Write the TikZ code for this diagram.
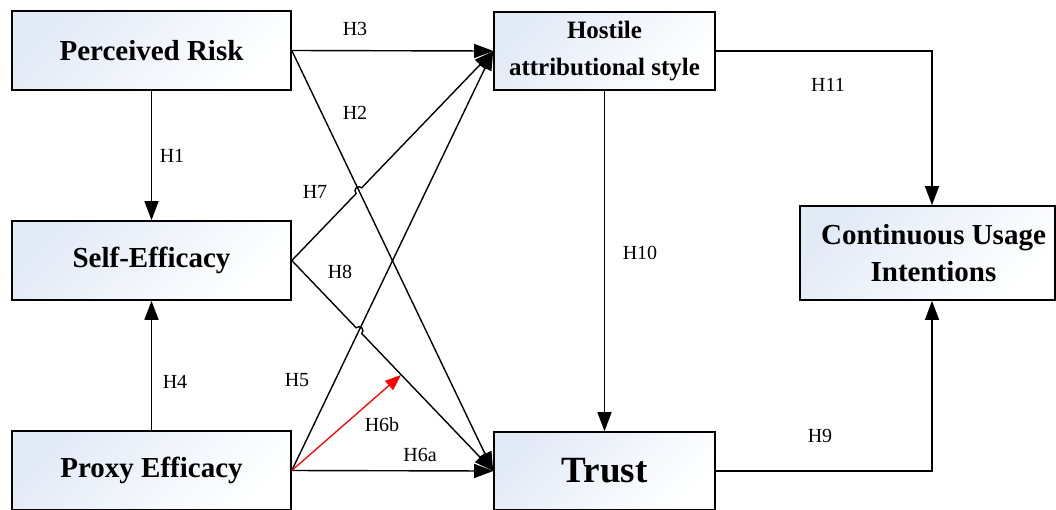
\documentclass[tikz,border=0pt]{standalone}
\usepackage{fontspec}
\setmainfont{Liberation Serif}
\usetikzlibrary{arrows.meta,calc,intersections}
\definecolor{boxblue}{RGB}{226,234,246}
\begin{document}
\begin{tikzpicture}[x=1pt,y=-1pt,
  box/.style={draw=black, line width=1.6pt, top color=boxblue, bottom color=white, shading angle=45,
    font=\bfseries\fontsize{29}{30}\selectfont, align=center, inner sep=0pt},
  conn/.style={line width=1.4pt, -{Triangle[length=19pt,width=14pt]}},
  redconn/.style={line width=1.3pt, red, -{Triangle[length=16pt,width=12pt]}},
  lbl/.style={font=\fontsize{20}{22}\selectfont, inner sep=0pt}]
\useasboundingbox (0,0) rectangle (1056,509);
\clip (0,0) rectangle (1056,509);

% boxes
\node[box, minimum width=279pt, minimum height=79pt] (pr) at (151.5,50.5) {Perceived Risk};
\node[box, minimum width=279pt, minimum height=79pt] (se) at (151.5,260.5) {Self-Efficacy};
\node[box, minimum width=279pt, minimum height=79pt] (px) at (151.5,470.5) {Proxy Efficacy};
\node[box, minimum width=221pt, minimum height=78pt, font=\bfseries\fontsize{25}{37}\selectfont] (host) at (604.5,51) {Hostile\\attributional style};
\node[box, minimum width=221pt, minimum height=78pt, font=\bfseries\fontsize{37}{40}\selectfont] (trust) at (604.5,471) {Trust};
\node[box, minimum width=255pt, minimum height=94pt, font=\bfseries\fontsize{29}{37}\selectfont] (cui) at (927.5,253) {\hspace*{12pt}Continuous Usage\\\hspace*{12pt}Intentions};

% helper paths for the line jumps
\path[name path=h2] (pr.east) -- (trust.west);
\path[name path=h7] (se.east) -- (host.west);
\path[name path=h5] (px.east) -- (host.west);
\path[name path=h8] (se.east) -- (trust.west);
\path[name intersections={of=h2 and h7, by=j1}];
\path[name intersections={of=h5 and h8, by=j2}];

% connectors
\draw[conn] (pr.south) -- (se.north);
\draw[conn] (px.north) -- (se.south);
\draw[conn] (pr.east) -- (host.west);
\draw[conn] (pr.east) -- (trust.west);
\draw[conn] (se.east) -- ($(j1)!4pt!(se.east)$) arc[start angle=226, end angle=46, radius=4pt] -- (host.west);
\draw[conn] (se.east) -- ($(j2)!4pt!(se.east)$) arc[start angle=134.2, end angle=-45.8, radius=4pt] -- (trust.west);
\draw[conn] (px.east) -- (host.west);
\draw[conn] (px.east) -- (trust.west);
\coordinate (h6tip) at (401,375);
\draw[redconn] (px.east) -- (h6tip);
\draw[conn] (host.south) -- (trust.north);
\draw[conn] (host.east) -| ([xshift=4.5pt]cui.north);
\draw[conn] (trust.east) -| ([xshift=4.5pt]cui.south);

% labels
\node[lbl] (l1) at (172,156) {H1};
\node[lbl] (l2) at (355,113) {H2};
\node[lbl] (l3) at (355,29) {H3};
\node[lbl] (l4) at (175,382) {H4};
\node[lbl] (l5) at (297,380) {H5};
\node[lbl] (l6a) at (420,455) {H6a};
\node[lbl] (l6b) at (382,425) {H6b};
\node[lbl] (l7) at (315,192) {H7};
\node[lbl] (l8) at (340,272) {H8};
\node[lbl] (l9) at (820,436) {H9};
\node[lbl] (l10) at (640,253) {H10};
\node[lbl] (l11) at (828,85) {H11};
\end{tikzpicture}
\end{document}
